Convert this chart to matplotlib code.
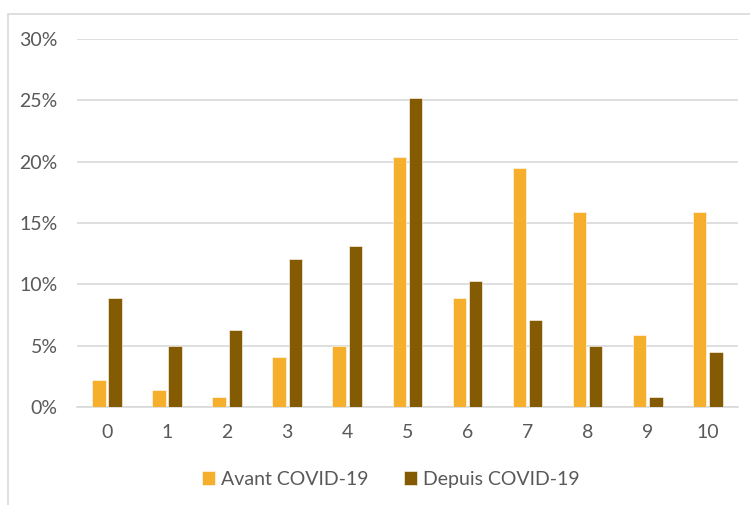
import numpy as np
import matplotlib.pyplot as plt
from matplotlib.patches import Rectangle

categories = ["0", "1", "2", "3", "4", "5", "6", "7", "8", "9", "10"]
avant = [2.2, 1.4, 0.8, 4.1, 5.0, 20.4, 8.9, 19.5, 15.9, 5.9, 15.9]
depuis = [8.9, 5.0, 6.3, 12.1, 13.1, 25.2, 10.3, 7.1, 5.0, 0.8, 4.5]
series_names = ["Avant COVID-19", "Depuis COVID-19"]
colors = ["#F6AE2D", "#845A03"]

plt.rcParams['font.family'] = ['Lato', 'DejaVu Sans']

fig = plt.figure(figsize=(7.5, 5.05), dpi=100)
ax = fig.add_axes([0.1027, 0.194, 0.881, 0.729])

# light frame round the chart, running off right and bottom
fig.patches.append(Rectangle((8 / 750, -0.1), 1.2, 1 - 14 / 505 + 0.1,
                             transform=fig.transFigure, fill=False,
                             edgecolor="#D9D9D9", linewidth=1.2))

x = np.arange(len(categories))
w = 0.225
ax.bar(x - 0.135, np.array(avant) / 100, w, color=colors[0], label=series_names[0],
       edgecolor="white", linewidth=0.4, zorder=3)
ax.bar(x + 0.135, np.array(depuis) / 100, w, color=colors[1], label=series_names[1],
       edgecolor="white", linewidth=0.4, zorder=3)

ax.set_xlim(-0.5, len(categories) - 0.5)
ax.set_ylim(0, 0.30)
yt = np.arange(0, 0.31, 0.05)
ax.set_yticks(yt)
ax.set_yticklabels([f"{int(round(v * 100))}%" for v in yt])
ax.set_xticks(x)
ax.set_xticklabels(categories)
ax.grid(axis="y", color="#D9D9D9", linewidth=1.2, zorder=0)
for s in ["top", "right", "left"]:
    ax.spines[s].set_visible(False)
ax.spines["bottom"].set_color("#D9D9D9")
ax.spines["bottom"].set_linewidth(1.2)
ax.tick_params(axis="both", length=0, labelsize=14, colors="#595959")
ax.tick_params(axis="y", pad=14)
ax.tick_params(axis="x", pad=12)

ax.legend(loc="upper center", bbox_to_anchor=(0.475, -0.125), ncol=2, frameon=False,
          fontsize=14, labelcolor="#595959", handlelength=0.7, handleheight=0.7,
          handletextpad=0.3, columnspacing=1.8)

fig.savefig("out.png", dpi=100)
